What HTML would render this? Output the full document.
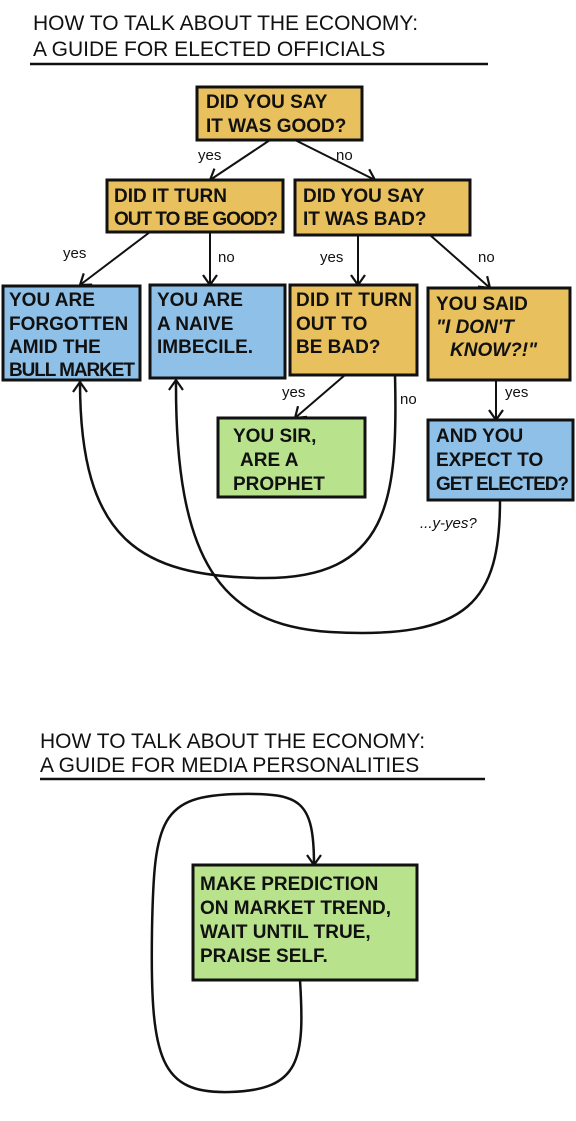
<!DOCTYPE html>
<html><head><style>
body{margin:0;background:#fff;}
svg{display:block;}
text{font-family:"Liberation Sans",sans-serif;font-weight:bold;fill:#111;}
.t{font-size:19px;}
.h{font-size:21px;font-weight:normal;}
.s{font-size:15px;font-weight:normal;}
</style></head><body>
<svg width="576" height="1121" viewBox="0 0 576 1121" xmlns="http://www.w3.org/2000/svg">
<defs><marker id="a" markerWidth="14" markerHeight="16" refX="11" refY="8" orient="auto" markerUnits="userSpaceOnUse"><path d="M1,1 L11,8 L1,15" fill="none" stroke="#111" stroke-width="2.2"/></marker></defs>
<g stroke="#111" stroke-width="3">
<text class="h" x="33" y="30" stroke="none">HOW TO TALK ABOUT THE ECONOMY:</text>
<text class="h" x="33" y="56" stroke="none">A GUIDE FOR ELECTED OFFICIALS</text>
<line x1="30" y1="64" x2="488" y2="64" stroke-width="2.5"/>

<rect x="197" y="87" width="165" height="53" fill="#e8c05e"/>
<text class="t" x="206" y="108" stroke="none">DID YOU SAY</text>
<text class="t" x="206" y="132" stroke="none">IT WAS GOOD?</text>

<g fill="none" stroke-width="2">
<line x1="270" y1="140" x2="210" y2="180" marker-end="url(#a)"/>
<line x1="295" y1="140" x2="375" y2="180" marker-end="url(#a)"/>
<line x1="150" y1="232" x2="80" y2="285" marker-end="url(#a)"/>
<line x1="210" y1="232" x2="210" y2="285" marker-end="url(#a)"/>
<line x1="358" y1="235" x2="358" y2="285" marker-end="url(#a)"/>
<line x1="430" y1="235" x2="490" y2="288" marker-end="url(#a)"/>
<line x1="345" y1="375" x2="295" y2="418" marker-end="url(#a)"/>
<line x1="496" y1="380" x2="496" y2="420" marker-end="url(#a)"/>
<path d="M395 375 C398 500 390 580 260 578 C140 576 80 540 80 382" stroke-width="2.5" marker-end="url(#a)"/>
<path d="M500 500 C500 600 470 640 330 632 C220 625 175 560 176 380" stroke-width="2.5" marker-end="url(#a)"/>
</g>
<text class="s" x="198" y="160" stroke="none">yes</text>
<text class="s" x="336" y="160" stroke="none">no</text>
<text class="s" x="63" y="258" stroke="none">yes</text>
<text class="s" x="218" y="262" stroke="none">no</text>
<text class="s" x="320" y="262" stroke="none">yes</text>
<text class="s" x="478" y="262" stroke="none">no</text>
<text class="s" x="282" y="397" stroke="none">yes</text>
<text class="s" x="400" y="404" stroke="none">no</text>
<text class="s" x="505" y="397" stroke="none">yes</text>
<text class="s" x="420" y="528" stroke="none" font-style="italic">...y-yes?</text>

<rect x="107" y="180" width="176" height="52" fill="#e8c05e"/>
<text class="t" x="114" y="202" stroke="none">DID IT TURN</text>
<text class="t" x="114" y="225" stroke="none" textLength="164">OUT TO BE GOOD?</text>
<rect x="295" y="180" width="175" height="55" fill="#e8c05e"/>
<text class="t" x="303" y="202" stroke="none">DID YOU SAY</text>
<text class="t" x="303" y="225" stroke="none">IT WAS BAD?</text>

<rect x="3" y="286" width="137" height="94" fill="#8fc1e8"/>
<text class="t" x="9" y="306" stroke="none">YOU ARE</text>
<text class="t" x="9" y="330" stroke="none">FORGOTTEN</text>
<text class="t" x="9" y="353" stroke="none">AMID THE</text>
<text class="t" x="9" y="376" stroke="none" textLength="126">BULL MARKET</text>
<rect x="150" y="285" width="135" height="93" fill="#8fc1e8"/>
<text class="t" x="157" y="306" stroke="none">YOU ARE</text>
<text class="t" x="157" y="330" stroke="none">A NAIVE</text>
<text class="t" x="157" y="353" stroke="none">IMBECILE.</text>
<rect x="290" y="285" width="127" height="90" fill="#e8c05e"/>
<text class="t" x="296" y="306" stroke="none" textLength="116">DID IT TURN</text>
<text class="t" x="296" y="330" stroke="none">OUT TO</text>
<text class="t" x="296" y="353" stroke="none">BE BAD?</text>
<rect x="428" y="288" width="142" height="92" fill="#e8c05e"/>
<text class="t" x="436" y="310" stroke="none">YOU SAID</text>
<text class="t" x="436" y="333" stroke="none" font-style="italic">"I DON'T</text>
<text class="t" x="450" y="356" stroke="none" font-style="italic">KNOW?!"</text>

<rect x="218" y="418" width="147" height="79" fill="#b8e38c"/>
<text class="t" x="233" y="442" stroke="none">YOU SIR,</text>
<text class="t" x="240" y="466" stroke="none">ARE A</text>
<text class="t" x="233" y="490" stroke="none">PROPHET</text>
<rect x="428" y="420" width="145" height="80" fill="#8fc1e8"/>
<text class="t" x="436" y="442" stroke="none">AND YOU</text>
<text class="t" x="436" y="466" stroke="none">EXPECT TO</text>
<text class="t" x="436" y="490" stroke="none" textLength="133">GET ELECTED?</text>

<text class="h" x="40" y="748" stroke="none">HOW TO TALK ABOUT THE ECONOMY:</text>
<text class="h" x="40" y="772" stroke="none">A GUIDE FOR MEDIA PERSONALITIES</text>
<line x1="40" y1="779" x2="485" y2="779" stroke-width="2.5"/>

<path d="M300 980 C305 1060 300 1090 230 1092 C160 1094 150 1060 152 930 C154 820 160 795 240 794 C300 793 314 800 314 865" fill="none" stroke-width="2.5" marker-end="url(#a)"/>
<rect x="193" y="865" width="224" height="115" fill="#b8e38c"/>
<text class="t" x="200" y="890" stroke="none">MAKE PREDICTION</text>
<text class="t" x="200" y="914" stroke="none">ON MARKET TREND,</text>
<text class="t" x="200" y="938" stroke="none">WAIT UNTIL TRUE,</text>
<text class="t" x="200" y="962" stroke="none">PRAISE SELF.</text>
</g>
</svg>
</body></html>
